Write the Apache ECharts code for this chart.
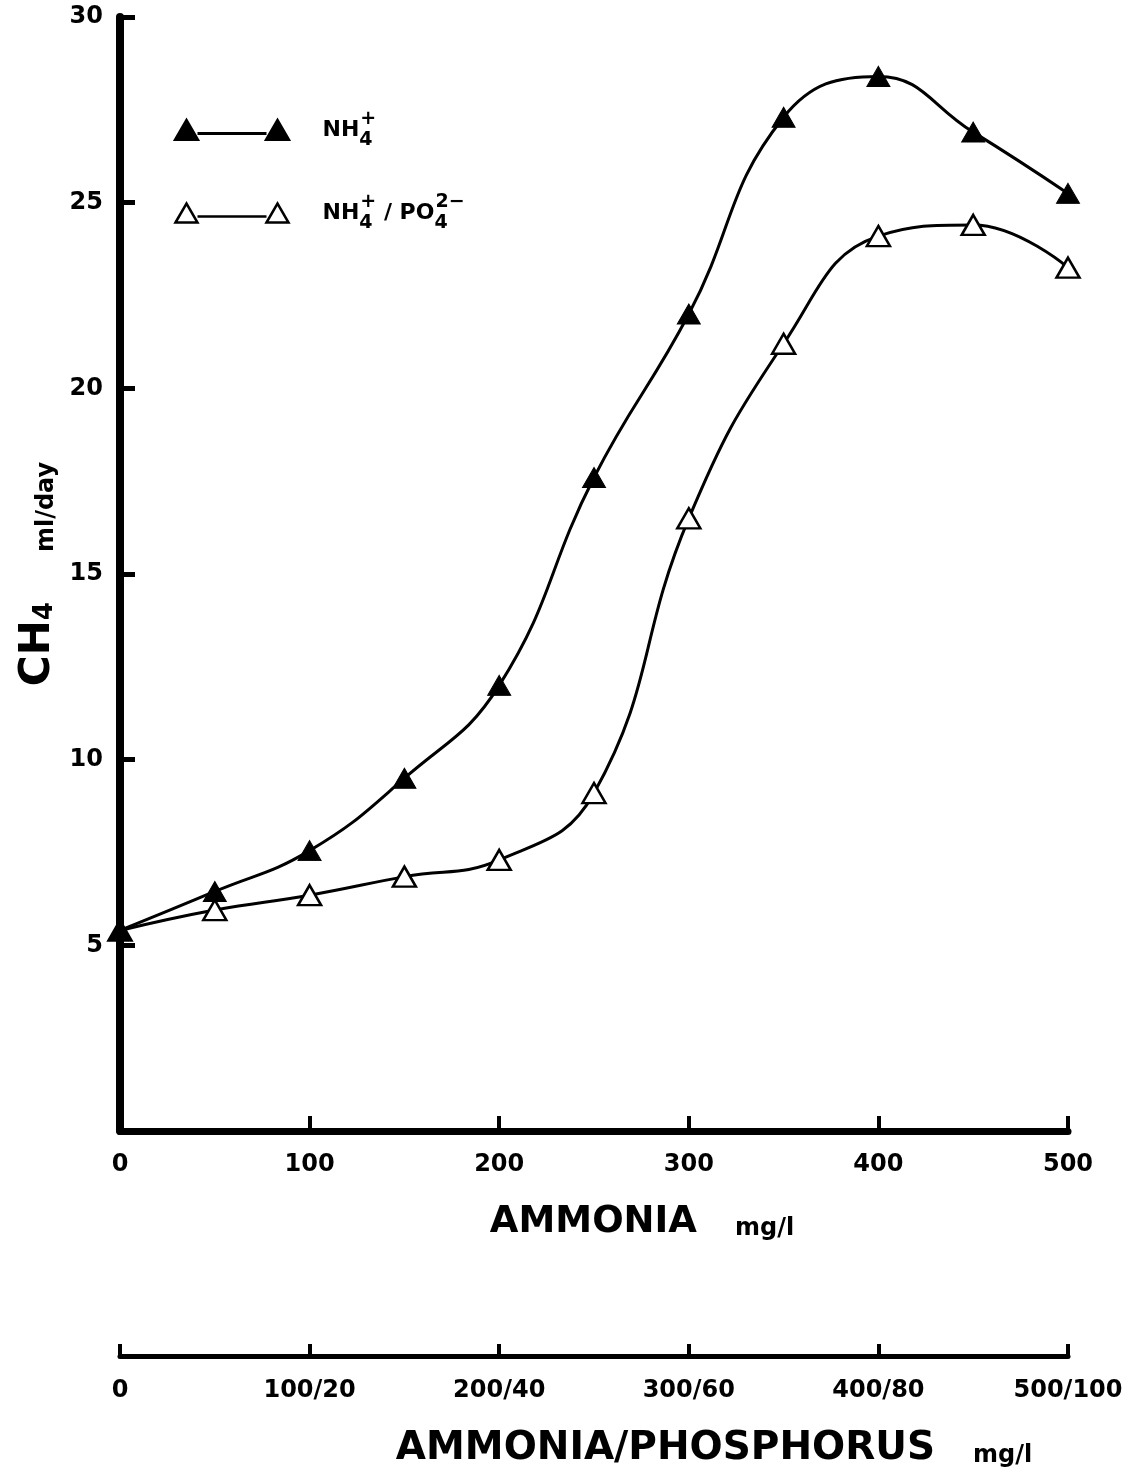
<!DOCTYPE html>
<html>
<head>
<meta charset="utf-8">
<script src="https://cdn.jsdelivr.net/npm/echarts@6/dist/echarts.min.js"></script>
<style>
html,body{margin:0;padding:0;background:#fff;}
#chart{width:1138px;height:1470px;}
</style>
</head>
<body>
<div id="chart"></div>
<script>
// ---- data ----
const ammonia = [0, 50, 100, 150, 200, 250, 300, 350, 400, 450, 500];
const ch4NH4 = [5.4, 6.45, 7.55, 9.5, 12.0, 17.6, 22.0, 27.3, 28.4, 26.9, 25.25];
const ch4NH4PO4 = [5.4, 5.95, 6.35, 6.85, 7.3, 9.1, 16.5, 21.2, 24.1, 24.4, 23.25];
const ammoniaTicks = [0, 100, 200, 300, 400, 500];
const ratioTickLabels = ['0', '100/20', '200/40', '300/60', '400/80', '500/100'];
const seriesNames = ['NH4+', 'NH4+/PO4 2-'];

const F = 'DejaVu Sans';
const BLACK = '#000';
const LEGEND_ICON = 'path://M0 19L11 0L22 19Z M91 19L102 0L113 19Z M22 13L91 13';

function pairs(xs, ys) { return xs.map((x, i) => [x, ys[i]]); }

const chart = echarts.init(document.getElementById('chart'), null, { renderer: 'canvas' });

const labelStyle = { color: BLACK, fontFamily: F, fontWeight: 'bold', fontSize: 24 };

const option = {
  animation: false,
  backgroundColor: '#fff',
  grid: [
    { left: 120, right: 70, top: 17, bottom: 339, outerBoundsMode: 'none' },
    { left: 120, right: 70, top: 1354, height: 2, outerBoundsMode: 'none' }
  ],
  legend: {
    orient: 'vertical',
    left: 169,
    top: 105,
    itemWidth: 113,
    itemHeight: 19,
    itemGap: 43,
    selectedMode: false,
    data: [
      { name: seriesNames[0], icon: LEGEND_ICON, itemStyle: { color: BLACK, borderColor: BLACK, borderWidth: 3 } },
      { name: seriesNames[1], icon: LEGEND_ICON, itemStyle: { color: '#fff', borderColor: BLACK, borderWidth: 2.5 } }
    ],
    formatter: function (name) {
      return name === seriesNames[0]
        ? '{m0|NH}{s|4}{p|+}'
        : '{m0|NH}{s|4}{p|+}{m| / PO}{s|4}{p|2−}';
    },
    textStyle: {
      color: BLACK,
      rich: {
        m0: { fontFamily: F, fontWeight: 'bold', fontSize: 22, lineHeight: 40, color: BLACK, padding: [0, 0, 0, 29] },
        m: { fontFamily: F, fontWeight: 'bold', fontSize: 22, lineHeight: 40, color: BLACK },
        s: { fontFamily: F, fontWeight: 'bold', fontSize: 19, lineHeight: 8, verticalAlign: 'bottom', width: 1, color: BLACK },
        p: { fontFamily: F, fontWeight: 'bold', fontSize: 19, lineHeight: 20, verticalAlign: 'top', color: BLACK }
      }
    }
  },
  xAxis: [
    {
      type: 'value', gridIndex: 0, min: 0, max: 500, interval: 100,
      axisLine: { show: true, lineStyle: { color: BLACK, width: 7 } },
      axisTick: { show: true, inside: true, length: 15, lineStyle: { color: BLACK, width: 4 } },
      splitLine: { show: false },
      axisLabel: Object.assign({ margin: 22, formatter: v => ammoniaTicks.indexOf(v) >= 0 ? String(v) : '' }, labelStyle),
      name: '{a|AMMONIA}{b|mg/l}',
      nameLocation: 'middle',
      nameGap: 68,
      nameTextStyle: {
        padding: [0, 0, 0, 96],
        rich: {
          a: { fontFamily: F, fontWeight: 'bold', fontSize: 37, lineHeight: 42, verticalAlign: 'bottom', color: BLACK },
          b: { fontFamily: F, fontWeight: 'bold', fontSize: 24, lineHeight: 33, verticalAlign: 'bottom', color: BLACK, padding: [0, 0, 0, 38] }
        }
      }
    },
    {
      type: 'value', gridIndex: 1, min: 0, max: 500, interval: 100, position: 'bottom',
      axisLine: { show: true, lineStyle: { color: BLACK, width: 5 } },
      axisTick: { show: true, inside: true, length: 12, lineStyle: { color: BLACK, width: 4 } },
      splitLine: { show: false },
      axisLabel: Object.assign({ margin: 23, formatter: v => ratioTickLabels[Math.round(v / 100)] }, labelStyle),
      name: '{a|AMMONIA/PHOSPHORUS}{b|mg/l}',
      nameLocation: 'middle',
      nameGap: 72,
      nameTextStyle: {
        padding: [0, 0, 0, 240],
        rich: {
          a: { fontFamily: F, fontWeight: 'bold', fontSize: 39, lineHeight: 40, verticalAlign: 'bottom', color: BLACK },
          b: { fontFamily: F, fontWeight: 'bold', fontSize: 24, lineHeight: 30, verticalAlign: 'bottom', color: BLACK, padding: [0, 0, 0, 38] }
        }
      }
    }
  ],
  yAxis: [
    {
      type: 'value', gridIndex: 0, min: 0, max: 30, interval: 5,
      axisLine: { show: true, lineStyle: { color: BLACK, width: 8 } },
      axisTick: { show: true, inside: true, length: 15, lineStyle: { color: BLACK, width: 5 } },
      splitLine: { show: false },
      axisLabel: Object.assign({ margin: 17, formatter: v => v === 0 ? '' : String(v) }, labelStyle),
      name: '{c|CH}{s|4}{u|ml/day}',
      nameLocation: 'middle',
      nameRotate: 90,
      nameGap: 61,
      nameTextStyle: {
        rich: {
          c: { fontFamily: F, fontWeight: 'bold', fontSize: 42, lineHeight: 48, verticalAlign: 'bottom', color: BLACK },
          s: { fontFamily: F, fontWeight: 'bold', fontSize: 26, lineHeight: 14, verticalAlign: 'bottom', color: BLACK },
          u: { fontFamily: F, fontWeight: 'bold', fontSize: 24, lineHeight: 36, verticalAlign: 'bottom', color: BLACK, padding: [0, 0, 0, 50] }
        }
      }
    },
    { type: 'value', gridIndex: 1, show: false, min: 0, max: 1 }
  ],
  series: [
    {
      name: seriesNames[1],
      type: 'line',
      xAxisIndex: 0, yAxisIndex: 0,
      data: pairs(ammonia, ch4NH4PO4),
      smooth: 0.45,
      symbol: 'triangle',
      symbolSize: [23, 20],
      z: 2,
      lineStyle: { color: BLACK, width: 3 },
      itemStyle: { color: '#fff', borderColor: BLACK, borderWidth: 2.5 }
    },
    {
      name: seriesNames[0],
      type: 'line',
      xAxisIndex: 0, yAxisIndex: 0,
      data: pairs(ammonia, ch4NH4),
      smooth: 0.45,
      symbol: 'triangle',
      symbolSize: [23, 20],
      z: 3,
      lineStyle: { color: BLACK, width: 3 },
      itemStyle: { color: BLACK, borderColor: BLACK, borderWidth: 1 }
    }
  ]
};

chart.setOption(option);
</script>
</body>
</html>
